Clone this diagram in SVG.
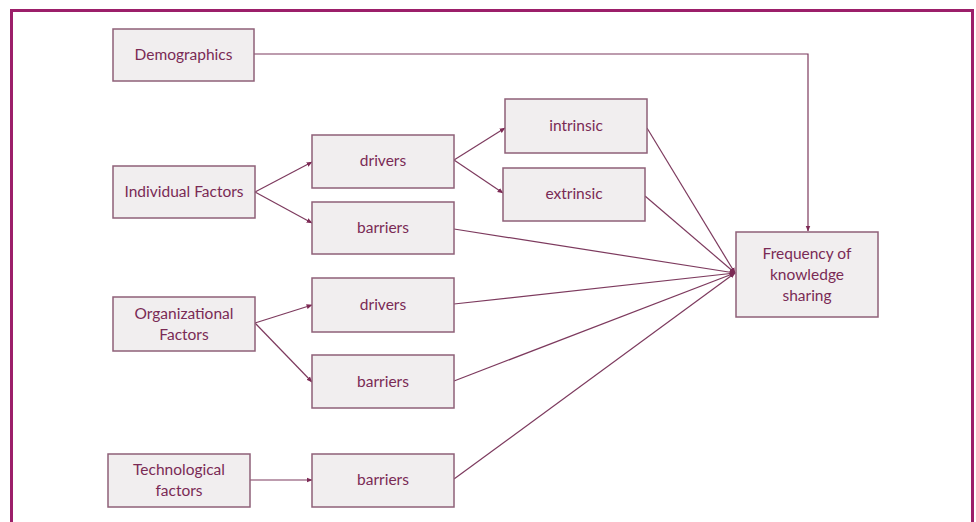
<svg xmlns="http://www.w3.org/2000/svg" width="976" height="522" viewBox="0 0 976 522">
<defs>
<style>
.box{fill:#f1eeef;stroke:#8e6078;stroke-width:1.5}
.t{font-family:Lato,"Open Sans","Liberation Sans",sans-serif;font-size:15.5px;fill:#7a2a55;text-anchor:middle}
.c{fill:none;stroke:#7d3a5e;stroke-width:1.2}
</style>
<marker id="ah" viewBox="0 0 10 10" refX="9" refY="5" markerWidth="6" markerHeight="6" orient="auto" markerUnits="userSpaceOnUse">
<path d="M0,1 L10,5 L0,9 z" fill="#7d2a55"/>
</marker>
</defs>
<rect x="0" y="0" width="976" height="522" fill="#ffffff"/>
<rect x="11.5" y="10.5" width="961" height="520" fill="none" stroke="#9c1f6a" stroke-width="3"/>
<g id="connectors">
<path class="c" d="M254,54 H808 V231" marker-end="url(#ah)"/>
<line class="c" x1="255" y1="192" x2="312" y2="162" marker-end="url(#ah)"/>
<line class="c" x1="255" y1="192" x2="312" y2="223" marker-end="url(#ah)"/>
<line class="c" x1="454" y1="160" x2="505" y2="128" marker-end="url(#ah)"/>
<line class="c" x1="454" y1="160" x2="503" y2="193" marker-end="url(#ah)"/>
<line class="c" x1="647" y1="128" x2="735" y2="273" marker-end="url(#ah)"/>
<line class="c" x1="645" y1="196" x2="735" y2="273" marker-end="url(#ah)"/>
<line class="c" x1="454" y1="229" x2="735" y2="273" marker-end="url(#ah)"/>
<line class="c" x1="454" y1="304" x2="735" y2="273" marker-end="url(#ah)"/>
<line class="c" x1="454" y1="381" x2="735" y2="273" marker-end="url(#ah)"/>
<line class="c" x1="454" y1="479" x2="735" y2="273" marker-end="url(#ah)"/>
<line class="c" x1="255" y1="323" x2="312" y2="305" marker-end="url(#ah)"/>
<line class="c" x1="255" y1="323" x2="312" y2="382" marker-end="url(#ah)"/>
<line class="c" x1="250" y1="480" x2="312" y2="480" marker-end="url(#ah)"/>
</g>
<g id="demographics"><rect class="box" x="113" y="29" width="141" height="52"/><text class="t" x="183.5" y="60">Demographics</text></g>
<g id="individual"><rect class="box" x="113" y="166" width="142" height="52"/><text class="t" x="184" y="197">Individual Factors</text></g>
<g id="ind-drivers"><rect class="box" x="312" y="135" width="142" height="53"/><text class="t" x="383" y="166">drivers</text></g>
<g id="ind-barriers"><rect class="box" x="312" y="202" width="142" height="52"/><text class="t" x="383" y="233">barriers</text></g>
<g id="intrinsic"><rect class="box" x="505" y="99" width="142" height="54"/><text class="t" x="576" y="131">intrinsic</text></g>
<g id="extrinsic"><rect class="box" x="503" y="168" width="142" height="53"/><text class="t" x="574" y="199">extrinsic</text></g>
<g id="frequency"><rect class="box" x="736" y="232" width="142" height="85"/><text class="t" x="807" y="259">Frequency of</text><text class="t" x="807" y="280">knowledge</text><text class="t" x="807" y="301">sharing</text></g>
<g id="organizational"><rect class="box" x="113" y="297" width="142" height="54"/><text class="t" x="184" y="319">Organizational</text><text class="t" x="184" y="340">Factors</text></g>
<g id="org-drivers"><rect class="box" x="312" y="278" width="142" height="54"/><text class="t" x="383" y="310">drivers</text></g>
<g id="org-barriers"><rect class="box" x="312" y="355" width="142" height="53"/><text class="t" x="383" y="387">barriers</text></g>
<g id="technological"><rect class="box" x="108" y="454" width="142" height="53"/><text class="t" x="179" y="475">Technological</text><text class="t" x="179" y="496">factors</text></g>
<g id="tech-barriers"><rect class="box" x="312" y="454" width="142" height="53"/><text class="t" x="383" y="485">barriers</text></g>
</svg>
